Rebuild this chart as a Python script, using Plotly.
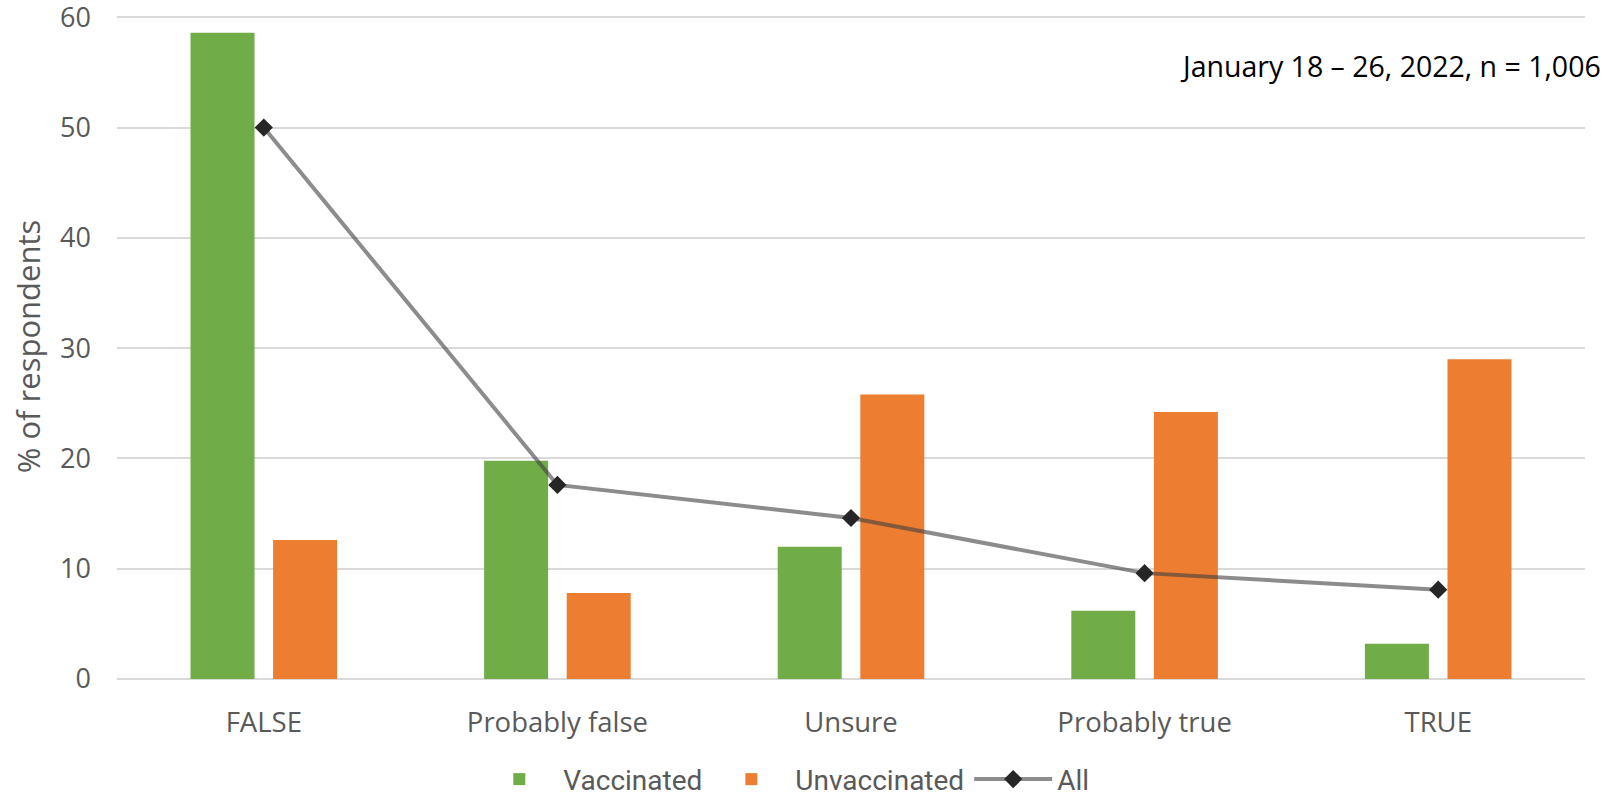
import plotly.graph_objects as go

categories = ["FALSE", "Probably false", "Unsure", "Probably true", "TRUE"]
vaccinated = [58.6, 19.8, 12.0, 6.2, 3.2]
unvaccinated = [12.6, 7.8, 25.8, 24.2, 29.0]
all_resp = [50.0, 17.6, 14.6, 9.6, 8.1]
y_ticks = [0, 10, 20, 30, 40, 50, 60]

W, H = 1617, 796
L, R, T, B = 116.5, 32, 14.2, 117.4

fig = go.Figure()
fig.add_trace(go.Bar(x=categories, y=vaccinated, name="Vaccinated",
                     marker=dict(color="#70ad47", line=dict(width=0))))
fig.add_trace(go.Bar(x=categories, y=unvaccinated, name="Unvaccinated",
                     marker=dict(color="#ed7d31", line=dict(width=0))))
fig.add_trace(go.Scatter(x=categories, y=all_resp, name="All", mode="lines+markers",
                         line=dict(color="rgba(64,64,64,0.6)", width=4),
                         marker=dict(symbol="diamond", size=14, color="#262626")))

fig.update_layout(
    width=W, height=H,
    margin=dict(l=L, r=R, t=T, b=B, autoexpand=False),
    paper_bgcolor="white", plot_bgcolor="white",
    barmode="group", bargap=0.4375, bargroupgap=0.225,
    font=dict(family="Open Sans", color="#595959", size=27),
    showlegend=True,
    legend=dict(orientation="h", x=0.4549, xanchor="center", y=-0.151, yanchor="middle",
                font=dict(family="Roboto", size=28, color="#595959"),
                itemwidth=78, traceorder="normal", bgcolor="rgba(0,0,0,0)"),
    annotations=[dict(text="January 18 \u2013 26, 2022, n = 1,006", xref="paper", yref="paper",
                      x=1.0123, y=0.922, xanchor="right", yanchor="middle", showarrow=False,
                      font=dict(family="Open Sans", size=28.5, color="#000000"))],
)
fig.update_xaxes(showgrid=False, showline=False, zeroline=False, ticks="",
                 tickfont=dict(size=27.5, color="#595959"), ticklabelstandoff=24)
fig.update_yaxes(range=[0, 60.3], tickvals=y_ticks, showgrid=True, gridcolor="#d9d9d9", gridwidth=1.5,
                 zeroline=True, zerolinecolor="#d9d9d9", zerolinewidth=1.5, showline=False, ticks="",
                 ticklabeloverflow="allow",
                 tickfont=dict(size=27, color="#595959"), ticklabelstandoff=25,
                 title=dict(text="% of respondents", font=dict(size=31, color="#595959"), standoff=10))

fig.write_html("out.html", config={"displayModeBar": False},
               post_script="document.body.style.margin='0';document.body.style.overflow='hidden';")
